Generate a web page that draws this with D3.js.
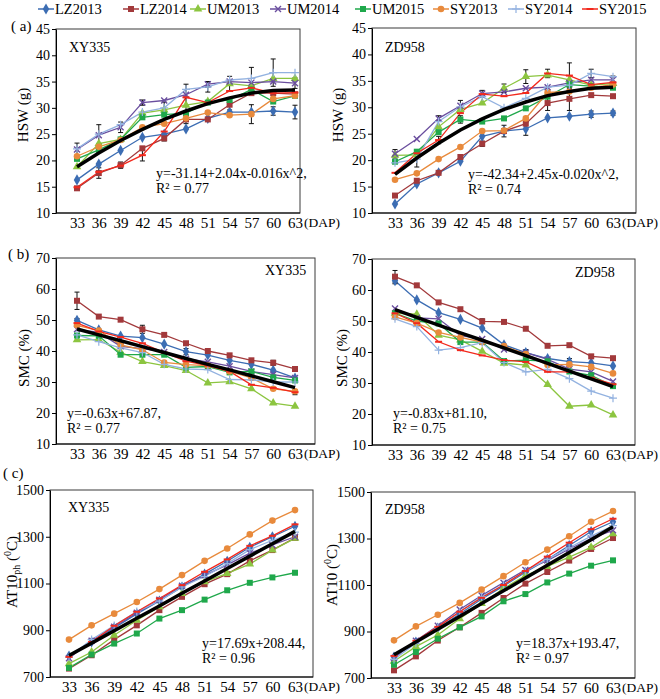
<!DOCTYPE html>
<html><head><meta charset="utf-8">
<script src="https://cdn.jsdelivr.net/npm/d3@7"></script>
<style>body{margin:0;background:#fff} svg text{font-family:"Liberation Serif","Times New Roman","DejaVu Serif",serif}</style>
</head><body><svg id="c" width="660" height="699"></svg>
<script>
const FONT = '"Liberation Serif","Times New Roman","DejaVu Serif",serif';
const dap = [33,36,39,42,45,48,51,54,57,60,63];
const seriesNames = ["LZ2013","LZ2014","UM2013","UM2014","UM2015","SY2013","SY2014","SY2015"];
const seriesColors = ["#3c6db3","#a2393b","#8cc540","#6a4e9e","#1fa84b","#e88a3c","#93b2e0","#f2281c"];
const seriesMarkers = ["diamond","square","triangle","x","square","circle","plus","dash"];

// HSW (g) XY335
const hswXY = [
  [16.3,19.3,21.9,24.4,25.0,26.0,28.0,29.2,29.2,29.4,29.2],
  [14.7,17.6,19.1,22.3,24.2,27.8,27.8,30.6,32.8,32.8,32.6],
  [18.8,23.2,24.0,29.0,29.6,30.5,31.2,34.6,34.2,35.6,35.6],
  [22.1,24.8,26.3,31.0,31.4,32.5,34.5,35.0,34.8,35.0,34.7],
  [20.3,22.0,24.0,28.2,28.7,29.0,31.0,31.5,33.5,31.2,32.3],
  [20.8,22.6,23.9,26.3,27.0,28.0,29.1,28.6,28.8,31.7,32.3],
  [22.2,25.0,26.8,29.2,30.0,33.5,34.0,35.3,35.6,36.7,36.7],
  [14.9,17.8,19.0,21.0,25.5,32.0,31.0,33.2,33.8,32.8,32.9]
];
const hswXYFit = [18.8,21.4,23.8,25.9,27.8,29.4,30.8,31.9,32.8,33.3,33.4];
const hswXYErr = [[3,0,1.2],[1,1,1.0],[6,1,1.8],[3,2,1.0],[1,2,0.6],[7,3,1.1],[3,3,0.5],[6,4,1.1],[1,4,0.5],[7,5,2.5],[1,5,0.8],[3,6,0.5],[6,6,1.0],[2,7,1.4],[1,7,1.0],[6,8,2.1],[5,8,1.8],[6,9,2.6],[0,9,0.8],[3,10,1.0],[0,10,1.3]];

// HSW (g) ZD958
const hswZD = [
  [11.7,15.5,17.6,19.8,24.5,25.5,25.9,28.0,28.3,28.7,28.9],
  [13.3,16.1,17.6,20.6,23.1,25.5,26.9,30.8,31.6,32.3,32.1],
  [20.9,21.0,26.3,29.6,30.8,33.6,35.8,36.1,35.2,34.2,34.5],
  [21.2,24.0,27.9,30.3,32.6,32.9,33.6,33.8,34.6,35.2,35.2],
  [19.7,21.6,25.3,27.7,27.3,27.9,29.8,32.0,34.3,34.0,33.7],
  [16.3,17.5,20.2,22.5,25.5,25.6,27.9,32.8,33.0,33.7,34.3],
  [19.5,20.2,27.3,30.1,32.0,29.9,31.7,33.8,34.2,36.4,35.8],
  [17.6,21.3,23.8,28.9,32.5,32.1,32.7,36.4,36.0,34.3,34.7]
];
const hswZDFit = [17.3,20.4,23.2,25.7,27.8,29.6,31.0,32.2,33.0,33.6,33.8];
const hswZDErr = [[3,0,0.8],[6,1,1.5],[3,2,0.5],[7,2,0.7],[3,3,1.0],[4,3,0.7],[3,4,0.6],[1,4,0.5],[2,5,0.8],[1,5,1.1],[2,6,1.3],[0,6,1.2],[7,7,0.8],[1,7,1.4],[7,8,2.4],[1,8,2.2],[6,9,0.8],[0,9,0.6],[3,10,0.7],[0,10,0.4]];

// SMC (%) XY335
const smcXY = [
  [49.9,46.8,44.8,44.3,42.2,39.8,38.7,37.0,35.7,33.8,31.3],
  [56.2,51.1,50.1,47.0,45.2,42.5,40.0,38.6,37.0,36.2,34.2],
  [43.6,43.7,39.6,36.6,35.3,33.7,29.7,30.1,27.8,23.2,22.2],
  [47.0,46.0,41.5,40.8,39.7,37.5,36.5,35.1,33.4,32.4,31.3],
  [45.0,44.9,38.8,38.8,38.8,34.7,35.0,33.1,33.4,31.5,30.5],
  [48.3,46.6,42.0,40.4,36.3,35.6,35.3,33.4,31.3,27.8,27.0],
  [45.2,43.0,41.0,39.5,35.7,34.2,34.0,30.8,30.7,30.0,30.0],
  [49.0,46.3,44.5,42.5,39.5,36.7,35.3,33.4,29.1,28.1,26.7]
];
const smcXYFit = [47.1,45.2,43.3,41.4,39.5,37.6,35.7,33.9,32.0,30.1,28.2];
const smcXYErr = [[1,0,2.8],[0,0,0.6],[1,3,1.3],[0,5,1.0],[1,9,0.8],[7,10,0.8]];

// SMC (%) ZD958
const smcZD = [
  [63.0,56.8,52.7,50.5,47.7,42.3,39.8,37.9,36.9,36.5,35.5],
  [64.3,61.5,56.0,53.8,49.9,49.7,47.5,42.0,42.2,38.6,38.0],
  [52.5,52.2,45.4,43.9,40.2,36.4,35.8,29.5,22.5,22.9,19.7],
  [54.0,51.0,50.7,45.3,44.2,40.8,39.8,37.6,34.5,33.6,30.5],
  [52.5,50.0,49.2,43.2,43.2,37.1,37.4,37.0,33.7,32.5,29.0],
  [51.3,49.3,46.3,44.7,43.2,41.9,39.3,35.8,36.0,35.2,33.1],
  [50.7,48.2,40.6,41.4,43.0,36.6,33.6,34.4,31.4,27.4,25.1],
  [52.5,49.3,43.3,40.6,38.9,37.4,36.8,33.6,33.6,31.7,29.6]
];
const smcZDFit = [53.7,51.2,48.7,46.2,43.8,41.3,38.8,36.3,33.8,31.3,28.8];
const smcZDErr = [[1,0,2.0],[0,0,1.0],[1,4,0.8],[5,6,1.5],[0,8,1.0]];

// AT10 XY335
const atXY = [
  [790,850,910,970,1025,1085,1140,1195,1255,1300,1345],
  [736,793,860,921,986,1043,1097,1140,1197,1243,1295],
  [757,807,879,943,1000,1057,1107,1143,1183,1243,1293],
  [780,855,915,975,1030,1090,1135,1180,1230,1265,1300],
  [739,796,843,886,950,986,1031,1071,1103,1126,1146],
  [860,921,971,1021,1076,1136,1197,1250,1310,1369,1414],
  [785,860,920,980,1025,1085,1130,1185,1245,1285,1320],
  [786,850,919,979,1036,1093,1150,1203,1261,1304,1353]
];
const atXYFit = [792,845,898,951,1004,1058,1111,1164,1217,1270,1323];

// AT10 ZD958
const atZD = [
  [790,855,915,975,1040,1095,1155,1210,1270,1330,1372],
  [733,793,861,918,980,1044,1106,1156,1205,1255,1302],
  [772,835,885,955,1020,1085,1140,1180,1220,1262,1320],
  [785,860,925,995,1055,1110,1165,1205,1255,1300,1335],
  [757,812,869,918,965,1030,1061,1111,1149,1183,1206],
  [862,922,972,1023,1080,1138,1198,1252,1310,1372,1418],
  [780,850,915,985,1050,1100,1160,1210,1260,1310,1355],
  [795,860,920,985,1045,1100,1160,1222,1282,1340,1385]
];
const atZDFit = [800,855,910,965,1020,1075,1130,1185,1240,1295,1351];

const hswTicks = [10,15,20,25,30,35,40,45];
const smcTicks = [10,20,30,40,50,60,70];
const atTicks = [700,900,1100,1300,1500];

const panels = [
  {series:hswXY, fit:hswXYFit, err:hswXYErr, ticks:hswTicks, left:56, right:300, top:29, bottom:213, x0:77, x1:295,
   title:"XY335", tx:69, ty:52, eq:["y=-31.14+2.04x-0.016x^2,","R² = 0.77"], ex:156, ey:178, ylab:"HSW (g)", lx:28, ly:115, tag:"(a)", tagx:11, tagy:31},
  {series:hswZD, fit:hswZDFit, err:hswZDErr, ticks:hswTicks, left:372, right:636, top:28, bottom:213, x0:395, x1:613,
   title:"ZD958", tx:385, ty:52, eq:["y=-42.34+2.45x-0.020x^2,","R² = 0.74"], ex:468, ey:179, ylab:"HSW (g)", lx:343, ly:115},
  {series:smcXY, fit:smcXYFit, err:smcXYErr, ticks:smcTicks, left:56, right:315, top:258, bottom:444, x0:77, x1:295,
   title:"XY335", tx:265, ty:275, eq:["y=-0.63x+67.87,","R² = 0.77"], ex:67, ey:418, ylab:"SMC (%)", lx:29, ly:358, tag:"(b)", tagx:8, tagy:259},
  {series:smcZD, fit:smcZDFit, err:smcZDErr, ticks:smcTicks, left:372, right:635, top:259, bottom:445, x0:395, x1:613,
   title:"ZD958", tx:575, ty:277, eq:["y=-0.83x+81.10,","R² = 0.75"], ex:393, ey:418, ylab:"SMC (%)", lx:347, ly:358},
  {series:atXY, fit:atXYFit, err:[], ticks:atTicks, left:50, right:313, top:490, bottom:677, x0:69, x1:295,
   title:"XY335", tx:68, ty:512, eq:["y=17.69x+208.44,","R² = 0.96"], ex:202, ey:648, ylab:"AT10ph", lx:17, ly:572, tag:"(c)", tagx:3, tagy:478},
  {series:atZD, fit:atZDFit, err:[], ticks:atTicks, left:371, right:635, top:492, bottom:678, x0:394, x1:613,
   title:"ZD958", tx:385, ty:514, eq:["y=18.37x+193.47,","R² = 0.97"], ex:516, ey:648, ylab:"AT10", lx:337, ly:575}
];

const svg = d3.select("#c");

function marker(g, type, color, cx, cy){
  if(type==="diamond") g.append("path").attr("d", d3.symbol(d3.symbolDiamond, 36)()).attr("transform",`translate(${cx},${cy})`).attr("fill",color);
  else if(type==="square") g.append("path").attr("d", d3.symbol(d3.symbolSquare, 36)()).attr("transform",`translate(${cx},${cy})`).attr("fill",color);
  else if(type==="triangle") g.append("path").attr("d", d3.symbol(d3.symbolTriangle, 32)()).attr("transform",`translate(${cx},${cy})`).attr("fill",color);
  else if(type==="circle") g.append("circle").attr("cx",cx).attr("cy",cy).attr("r",3.3).attr("fill",color);
  else if(type==="x") g.append("path").attr("d","M-3,-3L3,3M-3,3L3,-3").attr("transform",`translate(${cx},${cy})`).attr("stroke",color).attr("stroke-width",1.4).attr("fill","none");
  else if(type==="plus") g.append("path").attr("d","M-4,0L4,0M0,-4L0,4").attr("transform",`translate(${cx},${cy})`).attr("stroke",color).attr("stroke-width",1.2).attr("fill","none");
  else if(type==="dash") g.append("path").attr("d","M-3.5,0L3.5,0").attr("transform",`translate(${cx},${cy})`).attr("stroke",color).attr("stroke-width",2).attr("fill","none");
}

panels.forEach(p => {
  const g = svg.append("g");
  const x = d3.scaleLinear().domain([dap[0], dap[dap.length-1]]).range([p.x0, p.x1]);
  const y = d3.scaleLinear().domain([p.ticks[0], p.ticks[p.ticks.length-1]]).range([p.bottom, p.top]);

  g.append("rect").attr("x",p.left).attr("y",p.top).attr("width",p.right-p.left).attr("height",p.bottom-p.top)
    .attr("fill","none").attr("stroke","#3a3a3a").attr("stroke-width",1);

  const ya = g.append("g").attr("transform",`translate(${p.left},0)`)
    .call(d3.axisLeft(y).tickValues(p.ticks).tickFormat(d3.format("d")).tickSize(4).tickSizeOuter(0).tickPadding(2));
  ya.attr("font-family",FONT).attr("font-size",14);
  ya.selectAll("text").attr("fill","#000");
  ya.selectAll("line,path").attr("stroke","#000");

  const xa = g.append("g").attr("transform",`translate(0,${p.bottom})`)
    .call(d3.axisBottom(x).tickValues(dap).tickFormat(d3.format("d")).tickSize(0).tickPadding(4));
  xa.attr("font-family",FONT).attr("font-size",15);
  xa.select(".domain").remove();
  xa.selectAll("text").attr("fill","#000");
  g.append("line").attr("x1",p.left).attr("x2",p.right).attr("y1",p.bottom).attr("y2",p.bottom).attr("stroke","#000");
  g.append("text").attr("x", p.x1 + 9).attr("y", p.bottom + 4).attr("dy","0.71em")
    .attr("font-family",FONT).attr("font-size",13.5).text("(DAP)");

  const line = d3.line().x((d,i)=>x(dap[i])).y(d=>y(d));
  p.series.forEach((vals, si) => {
    g.append("path").attr("d", line(vals)).attr("fill","none").attr("stroke",seriesColors[si]).attr("stroke-width",1.3);
  });
  p.err.forEach(([si, di, e]) => {
    const v = p.series[si][di], cx = x(dap[di]);
    g.append("line").attr("x1",cx).attr("x2",cx).attr("y1",y(v-e)).attr("y2",y(v+e)).attr("stroke","#111").attr("stroke-width",1);
    [v-e, v+e].forEach(t => g.append("line").attr("x1",cx-2.5).attr("x2",cx+2.5).attr("y1",y(t)).attr("y2",y(t)).attr("stroke","#111").attr("stroke-width",1));
  });
  p.series.forEach((vals, si) => {
    vals.forEach((v, i) => marker(g, seriesMarkers[si], seriesColors[si], x(dap[i]), y(v)));
  });
  g.append("path").attr("d", line(p.fit)).attr("fill","none").attr("stroke","#000").attr("stroke-width",3.5);

  g.append("text").attr("x",p.tx).attr("y",p.ty).attr("font-family",FONT).attr("font-size",14).text(p.title);
  p.eq.forEach((t,i) => g.append("text").attr("x",p.ex).attr("y",p.ey + i*15).attr("font-family",FONT).attr("font-size",14).text(t));

  const yl = g.append("text").attr("transform",`translate(${p.lx},${p.ly}) rotate(-90)`).attr("text-anchor","middle")
    .attr("font-family",FONT).attr("font-size",15);
  if(p.ylab === "AT10ph"){
    yl.append("tspan").text("AT10");
    yl.append("tspan").attr("font-size",10).attr("dy",3).text("ph");
    yl.append("tspan").attr("dy",-3).text(" (");
    yl.append("tspan").attr("font-size",10).attr("dy",-6).text("0");
    yl.append("tspan").attr("dy",6).text("C)");
  } else if(p.ylab === "AT10"){
    yl.append("tspan").text("AT10 (");
    yl.append("tspan").attr("font-size",10).attr("dy",-6).text("0");
    yl.append("tspan").attr("dy",6).text("C)");
  } else yl.text(p.ylab);

  if(p.tag) g.append("text").attr("x",p.tagx).attr("y",p.tagy).attr("font-family",FONT).attr("font-size",15).text(p.tag.replace("(","( "));
});

// legend
const legendX = [55,140,207,287,372,450,525,599];
const lg = svg.append("g");
seriesNames.forEach((n,i) => {
  const tx = legendX[i];
  lg.append("line").attr("x1",tx-17).attr("x2",tx-1).attr("y1",9).attr("y2",9).attr("stroke",seriesColors[i]).attr("stroke-width",1.5);
  marker(lg, seriesMarkers[i], seriesColors[i], tx-9, 9);
  lg.append("text").attr("x",tx).attr("y",14).attr("font-family",FONT).attr("font-size",14.5).text(n);
});
</script></body></html>
